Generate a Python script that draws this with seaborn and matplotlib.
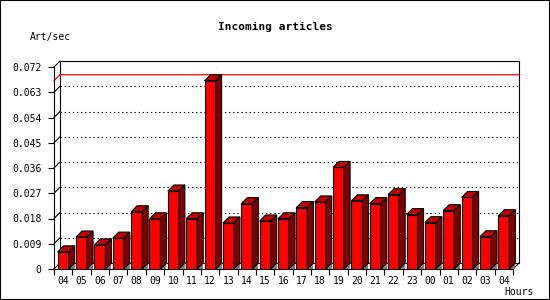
import numpy as np
import pandas as pd
import matplotlib
matplotlib.use("Agg")
import matplotlib.pyplot as plt
import matplotlib.transforms as mtrans
from matplotlib.patches import Polygon, Rectangle
import seaborn as sns

# ---- data ----
hours = ["04", "05", "06", "07", "08", "09", "10", "11", "12", "13", "14", "15",
         "16", "17", "18", "19", "20", "21", "22", "23", "00", "01", "02", "03", "04"]
rate = [0.0061, 0.0114, 0.0086, 0.0110, 0.0204, 0.0179, 0.0278, 0.0179, 0.0671,
        0.0164, 0.0233, 0.0171, 0.0179, 0.0219, 0.0239, 0.0362, 0.0243, 0.0233,
        0.0265, 0.0194, 0.0165, 0.0208, 0.0255, 0.0115, 0.0190]
yticks = [0, 0.009, 0.018, 0.027, 0.036, 0.045, 0.054, 0.063, 0.072]
ytick_labels = ["0", "0.009", "0.018", "0.027", "0.036", "0.045", "0.054", "0.063", "0.072"]
title = "Incoming articles"
ylabel = "Art/sec"
xlabel = "Hours"

sns.set_theme(style="white")
plt.rcParams["font.family"] = ["DejaVu Sans Mono", "DejaVu Sans"]
plt.rcParams["text.color"] = "black"
plt.rcParams["xtick.color"] = "black"
plt.rcParams["ytick.color"] = "black"
plt.rcParams["xtick.labelcolor"] = "black"
plt.rcParams["ytick.labelcolor"] = "black"

W, H, DPI = 550, 300, 100
fig = plt.figure(figsize=(W / DPI, H / DPI), dpi=DPI)
fig.patch.set_facecolor("white")
L, R, B, T = 54, 513, 31, 233
ax = fig.add_axes([L / W, B / H, (R - L) / W, (T - B) / H])

df = pd.DataFrame({"slot": np.arange(len(rate)), "rate": rate})
sns.barplot(data=df, x="slot", y="rate", ax=ax, color="#ff0000", saturation=1,
            width=0.6, edgecolor="black", linewidth=0.8)

n = len(rate)
ax.set_xlim(-0.5, n - 0.5)
ax.set_ylim(yticks[0], yticks[-1])
ax.patch.set_visible(False)

DEPTH = 6  # px
dx = DEPTH / ((R - L) / n)
dy = DEPTH * (yticks[-1] - yticks[0]) / (T - B)

# back frame
off = mtrans.ScaledTranslation(DEPTH / DPI, DEPTH / DPI, fig.dpi_scale_trans)
ax.add_patch(Rectangle((0, 0), 1, 1, transform=ax.transAxes + off, facecolor="white",
                       edgecolor="black", lw=0.8, zorder=0.5, clip_on=False))

# grid on back plane
for v in yticks[1:-1]:
    ax.plot([-0.5 + dx, n - 0.5 + dx], [v + dy, v + dy], color="black", lw=0.8,
            linestyle=(0, (1.2, 2.5)), zorder=1.5, clip_on=False)
for v in yticks:
    ax.plot([-0.5, -0.5 + dx], [v, v + dy], color="black", lw=0.8, zorder=1.6, clip_on=False)
ax.plot([n - 0.5, n - 0.5 + dx], [0, dy], color="black", lw=0.8, zorder=1.6, clip_on=False)

# max line
m = max(rate)
ax.plot([-0.5, -0.5 + dx, n - 0.5 + dx], [m, m + dy, m + dy], color="#ff0000", lw=0.9,
        zorder=1.7, clip_on=False)

# 3D faces
bars = ax.containers[0]
for i, p in enumerate(bars):
    x0 = p.get_x()
    x1 = x0 + p.get_width()
    h = p.get_height()
    z = 3 + i * 0.01
    p.set_zorder(z)
    ax.add_patch(Rectangle((x1, 0), dx, dy, facecolor="#808080", edgecolor="none",
                           zorder=2, clip_on=False))
    ax.add_patch(Polygon([(x0, h), (x1, h), (x1 + dx, h + dy), (x0 + dx, h + dy)],
                         closed=True, facecolor="#c00000", edgecolor="black", lw=0.8,
                         zorder=z, clip_on=False))
    ax.add_patch(Polygon([(x1, 0), (x1, h), (x1 + dx, h + dy), (x1 + dx, dy)],
                         closed=True, facecolor="#800000", edgecolor="black", lw=0.8,
                         zorder=z, clip_on=False))

for s in ["top", "right"]:
    ax.spines[s].set_visible(False)
for s in ["left", "bottom"]:
    ax.spines[s].set_color("black")
    ax.spines[s].set_linewidth(0.8)
    ax.spines[s].set_zorder(2.5)

ax.set_yticks(yticks, ytick_labels)
ax.set_xticks(np.arange(n), hours)
ax.set_xticks(np.arange(n + 1) - 0.5, minor=True)
ax.tick_params(axis="y", which="major", length=4, width=0.8, color="black", direction="out",
               labelsize=7, pad=5, left=True, labelcolor="black")
ax.tick_params(axis="x", which="major", length=0, labelsize=7, pad=5, labelcolor="black")
ax.tick_params(axis="x", which="minor", length=4, width=0.8, color="black", direction="out",
               bottom=True)
ax.set_xlabel("")
ax.set_ylabel("")

fig.text(275 / W, 1 - 27 / H, title, ha="center", va="center", fontsize=8,
         fontweight="bold", color="black")
fig.text(30 / W, 1 - 37 / H, ylabel, ha="left", va="center", fontsize=7, color="black")
fig.text(534 / W, 1 - 292 / H, xlabel, ha="right", va="center", fontsize=7, color="black")

fig.patches.append(Rectangle((0, 0), 1, 1, transform=fig.transFigure, fill=False,
                             edgecolor="black", lw=1.5))

fig.savefig("out.png", dpi=DPI)
